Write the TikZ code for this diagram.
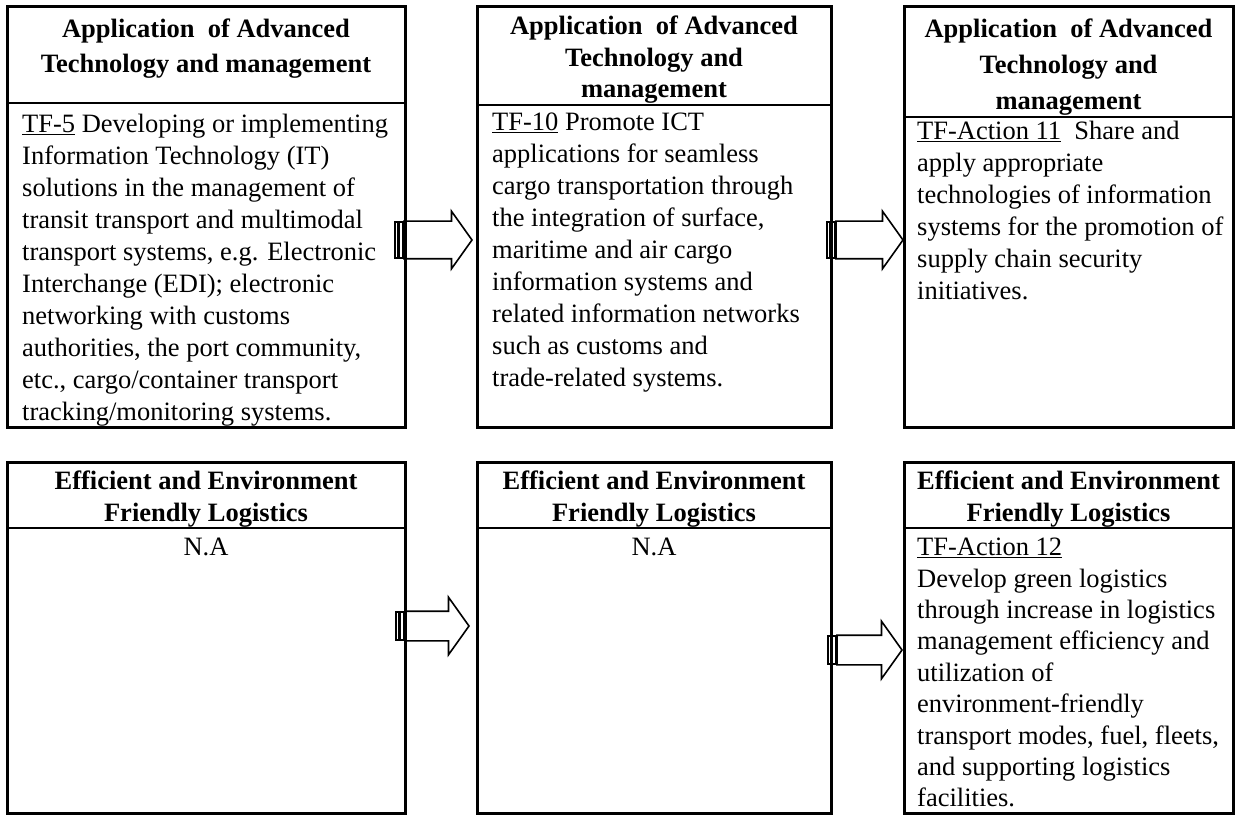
\documentclass[tikz,border=0pt]{standalone}
\usepackage{fontspec}
\setmainfont{Liberation Serif}
\usetikzlibrary{positioning,shapes.arrows}

\tikzset{
  box/.style={draw, line width=3pt, inner sep=0pt, outer sep=0pt},
  sepline/.style={line width=2pt},
  headtext/.style={anchor=north, inner sep=0pt, align=center, font=\bfseries\fontsize{26.5}{#1}\selectfont},
  bodytext/.style={anchor=north west, inner sep=0pt, align=left, font=\fontsize{26.5}{32}\selectfont},
  bigarrow/.style={draw, line width=1.6pt, fill=white, single arrow, single arrow tip angle=109, inner sep=0pt, outer sep=0pt, anchor=tail},
  stripe/.style={draw, line width=1.2pt, fill=white, inner sep=0pt, outer sep=0pt, minimum width=3pt},
}

\begin{document}
\begin{tikzpicture}[x=1pt,y=-1pt]
			\useasboundingbox (0,0) rectangle (1236,818);
			
			% Striped block arrows
			\node[bigarrow, text height=18pt, text depth=18pt, single arrow head extend=10pt, minimum height=68pt] (Arrow1) at (404,240) {};
			\node[stripe, minimum height=36pt, left=1.5pt of Arrow1.tail] (Arrow1b) {};
			\node[stripe, minimum height=36pt, left=1.5pt of Arrow1b] (Arrow1a) {};
			\node[bigarrow, text height=18pt, text depth=18pt, single arrow head extend=10pt, minimum height=67pt] (Arrow2) at (836,240) {};
			\node[stripe, minimum height=36pt, left=1.5pt of Arrow2.tail] (Arrow2b) {};
			\node[stripe, minimum height=36pt, left=1.5pt of Arrow2b] (Arrow2a) {};
			\node[bigarrow, text height=14pt, text depth=14pt, single arrow head extend=14pt, minimum height=64pt] (Arrow3) at (405,626) {};
			\node[stripe, minimum height=28pt, left=1.5pt of Arrow3.tail] (Arrow3b) {};
			\node[stripe, minimum height=28pt, left=1.5pt of Arrow3b] (Arrow3a) {};
			\node[bigarrow, text height=14pt, text depth=14pt, single arrow head extend=14pt, minimum height=65pt] (Arrow4) at (837,650) {};
			\node[stripe, minimum height=28pt, left=1.5pt of Arrow4.tail] (Arrow4b) {};
			\node[stripe, minimum height=28pt, left=1.5pt of Arrow4b] (Arrow4a) {};
			
			% Task force boxes
			\node[box, minimum width=398pt, minimum height=420pt] (TF5) at (206,217) {};
			\node[box, minimum width=354pt, minimum height=420pt] (TF10) at (654,217) {};
			\node[box, minimum width=329pt, minimum height=420pt] (TFAction11) at (1068.5,217) {};
			\node[box, minimum width=398pt, minimum height=351pt] (Logistics1) at (206,637.5) {};
			\node[box, minimum width=354pt, minimum height=351pt] (Logistics2) at (654,637.5) {};
			\node[box, minimum width=329pt, minimum height=351pt] (TFAction12) at (1068.5,637.5) {};
			
			\draw[sepline] ([yshift=-96pt]TF5.north west) -- ([yshift=-96pt]TF5.north east);
			\draw[sepline] ([yshift=-98pt]TF10.north west) -- ([yshift=-98pt]TF10.north east);
			\draw[sepline] ([yshift=-110pt]TFAction11.north west) -- ([yshift=-110pt]TFAction11.north east);
			\draw[sepline] ([yshift=-66pt]Logistics1.north west) -- ([yshift=-66pt]Logistics1.north east);
			\draw[sepline] ([yshift=-66pt]Logistics2.north west) -- ([yshift=-66pt]Logistics2.north east);
			\draw[sepline] ([yshift=-66pt]TFAction12.north west) -- ([yshift=-66pt]TFAction12.north east);
			
			% Headings
			\node[headtext=35] (TF5Head) at (206,19) {Application\ \ of Advanced\\Technology and management};
			\node[headtext=31.5] (TF10Head) at (654,16) {Application\ \ of Advanced\\Technology and\\management};
			\node[headtext=36] (TFAction11Head) at (1068.5,19) {Application\ \ of Advanced\\Technology and\\management};
			\node[headtext=32] (Logistics1Head) at (206,471) {Efficient and Environment\\Friendly Logistics};
			\node[headtext=32] (Logistics2Head) at (654,471) {Efficient and Environment\\Friendly Logistics};
			\node[headtext=32] (TFAction12Head) at (1068.5,471) {Efficient and Environment\\Friendly Logistics};
			
			% Texts
			\node[bodytext] (TF5Text) at (22,114) {\underline{TF-5} Developing or implementing\\Information Technology (IT)\\solutions in the management of\\transit transport and multimodal\\transport systems, e.g. Electronic\\Interchange (EDI); electronic\\networking with customs\\authorities, the port community,\\etc., cargo/container transport\\tracking/monitoring systems.};
			\node[bodytext] (TF10Text) at (492,113) {\underline{TF-10} Promote ICT\\applications for seamless\\cargo transportation through\\the integration of surface,\\maritime and air cargo\\information systems and\\related information networks\\such as customs and\\trade-related systems.};
			\node[bodytext] (TFAction11Text) at (917,121) {\underline{TF-Action 11}\ \ Share and\\apply appropriate\\technologies of information\\systems for the promotion of\\supply chain security\\initiatives.};
			\node[bodytext, anchor=north] (Logistics1Text) at (206,538) {N.A};
			\node[bodytext, anchor=north] (Logistics2Text) at (654,538) {N.A};
			\node[bodytext, font=\fontsize{26.5}{31.4}\selectfont] (TFAction12Text) at (917,538) {\underline{TF-Action 12}\\Develop green logistics\\through increase in logistics\\management efficiency and\\utilization of\\environment-friendly\\transport modes, fuel, fleets,\\and supporting logistics\\facilities.};
			
\end{tikzpicture}
\end{document}
